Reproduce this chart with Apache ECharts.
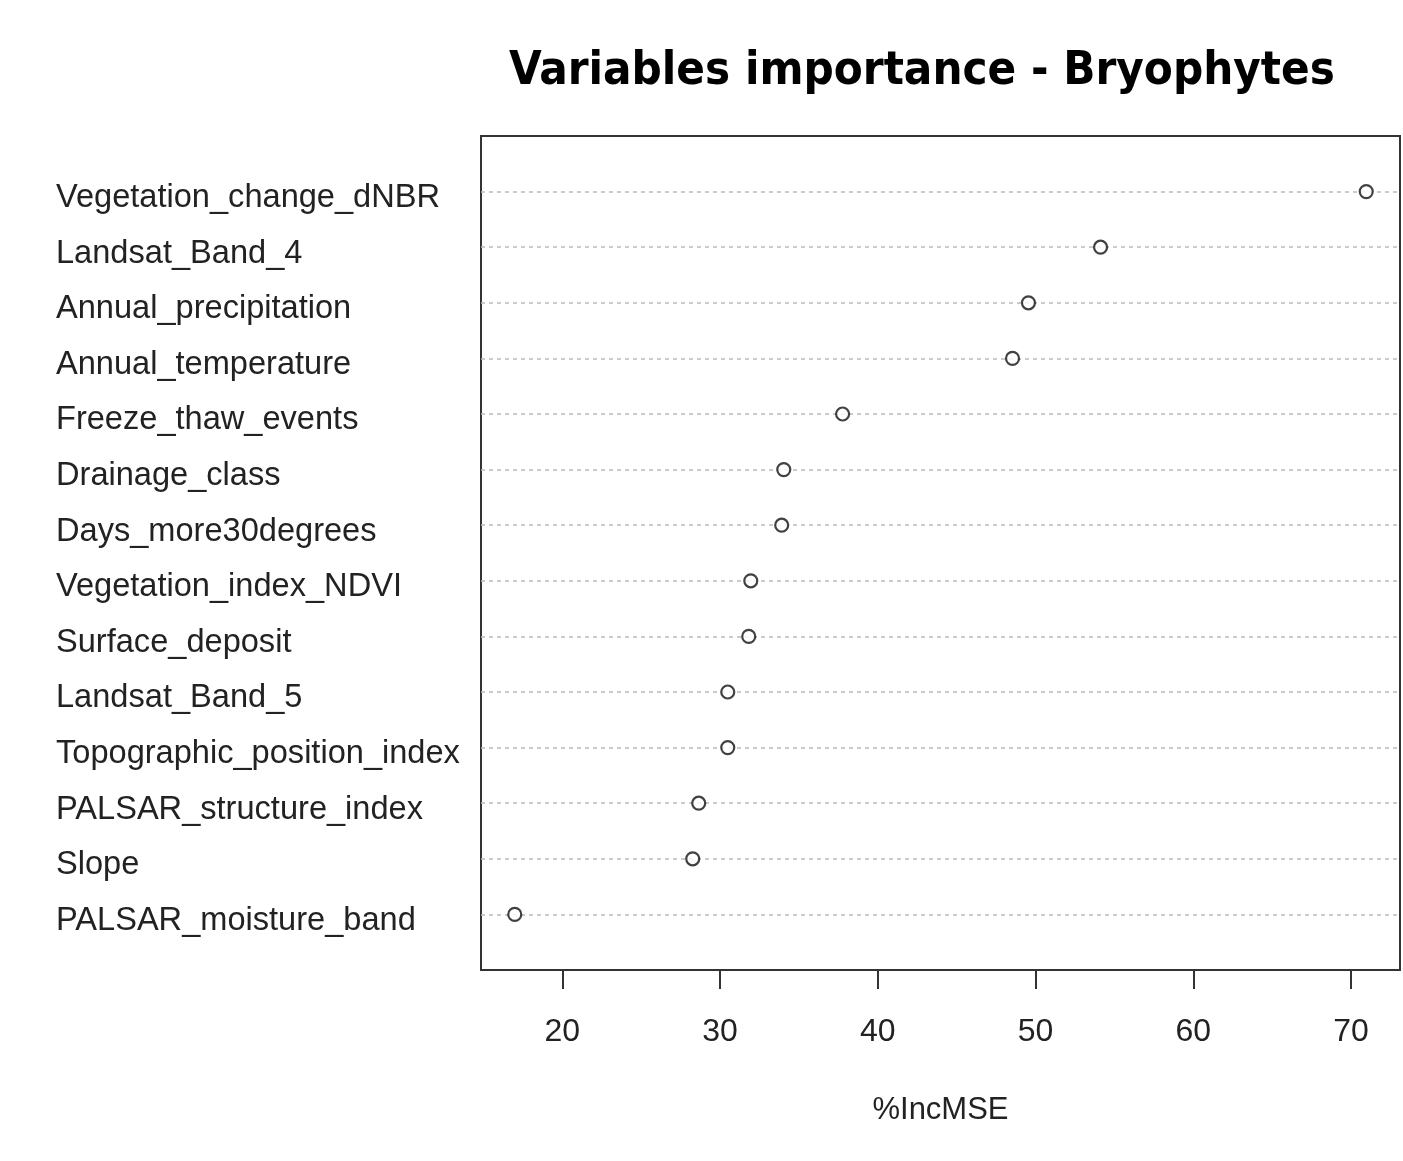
<!DOCTYPE html>
<html>
<head>
<meta charset="utf-8">
<script src="https://cdn.jsdelivr.net/npm/echarts@6/dist/echarts.min.js"></script>
<style>html,body{margin:0;padding:0;background:#fff}#c{width:1403px;height:1161px}</style>
</head>
<body>
<div id="c"></div>
<script>
const categories = [
  "Vegetation_change_dNBR","Landsat_Band_4","Annual_precipitation","Annual_temperature",
  "Freeze_thaw_events","Drainage_class","Days_more30degrees","Vegetation_index_NDVI",
  "Surface_deposit","Landsat_Band_5","Topographic_position_index","PALSAR_structure_index",
  "Slope","PALSAR_moisture_band"
];
const incMSE = [70.96, 54.12, 49.55, 48.54, 37.77, 34.04, 33.91, 31.95, 31.82, 30.49, 30.49, 28.65, 28.27, 16.99];
const xTicks = [20, 30, 40, 50, 60, 70];

const chart = echarts.init(document.getElementById('c'));
const font = '"Liberation Sans", Arial, sans-serif';
chart.setOption({
  animation: false,
  backgroundColor: '#fff',
  title: {
    text: 'Variables importance - Bryophytes',
    left: 917, top: 43, textAlign: 'center',
    textStyle: {fontFamily: '"DejaVu Sans Condensed", "DejaVu Sans", sans-serif', fontWeight: 'bold', fontSize: 47, color: '#000'}
  },
  grid: {left: 481, top: 136, width: 919, height: 834, show: true, borderColor: '#333', borderWidth: 2, backgroundColor: '#fff', containLabel: false},
  xAxis: {
    type: 'value', min: 14.85, max: 73.1, position: 'bottom',
    name: '%IncMSE', nameLocation: 'middle', nameGap: 125,
    nameTextStyle: {fontFamily: font, fontSize: 31, color: '#222'},
    axisLine: {show: false, onZero: false},
    axisTick: {show: true, inside: false, length: 19, customValues: xTicks, lineStyle: {color: '#333', width: 2}},
    axisLabel: {show: true, margin: 46, customValues: xTicks, fontFamily: font, fontSize: 32, color: '#222'},
    splitLine: {show: false}
  },
  yAxis: {
    type: 'value', min: 0, max: 15, interval: 1, inverse: true,
    axisLine: {show: false}, axisTick: {show: false},
    axisLabel: {
      show: true, align: 'left', margin: 425, color: '#222',
      formatter: v => (v >= 1 && v <= categories.length) ? '{a|' + categories[v - 1] + '}' : '',
      rich: {a: {fontFamily: font, fontSize: 32.6, color: '#222', padding: [13, 0, 0, 0]}}
    },
    splitLine: {show: true, showMinLine: false, showMaxLine: false, lineStyle: {color: '#bbb', type: [4, 4], width: 1.5}}
  },
  series: [{
    type: 'scatter',
    data: incMSE.map((v, i) => [v, i + 1]),
    symbol: 'circle', symbolSize: 13,
    itemStyle: {color: '#fff', borderColor: '#111', borderWidth: 2.2}
  }]
});
</script>
</body>
</html>
